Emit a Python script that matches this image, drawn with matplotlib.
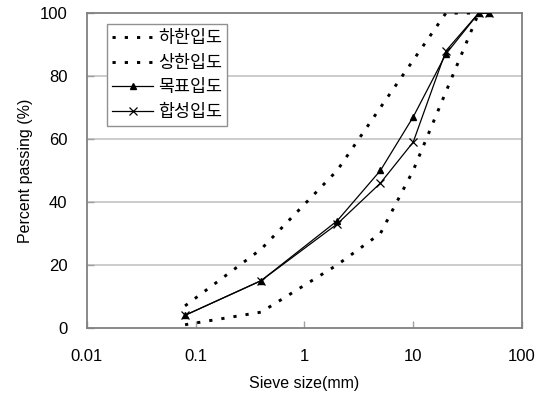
import matplotlib
matplotlib.use("Agg")
import matplotlib.pyplot as plt
from matplotlib.ticker import FixedLocator, FixedFormatter, NullLocator

# Data
lower_x = [0.08, 0.4, 2, 5, 10, 20, 40]
lower_y = [1, 5, 20, 30, 50, 75, 100]
upper_x = [0.08, 0.4, 2, 5, 10, 20, 40]
upper_y = [7, 25, 50, 70, 85, 100, 100]
target_x = [0.08, 0.4, 2, 5, 10, 20, 40, 50]
target_y = [4, 15, 34, 50, 67, 87, 100, 100]
combined_x = [0.08, 0.4, 2, 5, 10, 20, 40, 50]
combined_y = [4, 15, 33, 46, 59, 88, 100, 100]
labels = ["하한입도", "상한입도", "목표입도", "합성입도"]
x_ticks = [0.01, 0.1, 1, 10, 100]
x_ticklabels = ["0.01", "0.1", "1", "10", "100"]
y_ticks = [0, 20, 40, 60, 80, 100]

plt.rcParams['font.family'] = ['Liberation Sans Narrow', 'Liberation Sans', 'DejaVu Sans']

fig = plt.figure(figsize=(5.46, 3.96), dpi=100)
ax = fig.add_axes([0.159, 0.172, 0.797, 0.795])

dot_style = (0, (1.1, 3.1))
ax.plot(lower_x, lower_y, color='black', lw=2.1, linestyle=dot_style,
        dash_capstyle='butt', label=labels[0], zorder=3)
ax.plot(upper_x, upper_y, color='black', lw=2.1, linestyle=dot_style,
        dash_capstyle='butt', label=labels[1], zorder=3)
ax.plot(target_x, target_y, color='black', lw=0.9, marker='^', markersize=5,
        label=labels[2], zorder=4)
ax.plot(combined_x, combined_y, color='black', lw=0.9, marker='x', markersize=6,
        markeredgewidth=0.9, label=labels[3], zorder=4)

ax.set_xscale('log')
ax.set_xlim(0.01, 100)
ax.set_ylim(0, 100)
ax.xaxis.set_major_locator(FixedLocator(x_ticks))
ax.xaxis.set_major_formatter(FixedFormatter(x_ticklabels))
ax.xaxis.set_minor_locator(NullLocator())
ax.set_yticks(y_ticks)

for y in y_ticks[1:-1]:
    ax.axhline(y, color='#c8c8c8', lw=1.3, zorder=1)

for s in ax.spines.values():
    s.set_color('#808080')
    s.set_linewidth(1.3)

ax.tick_params(axis='both', direction='in', color='#a0a0a0', length=5, width=1,
               labelsize=12)
ax.tick_params(axis='x', pad=15)
ax.tick_params(axis='y', pad=14)

ax.set_xlabel("Sieve size(mm)", fontsize=11.5, labelpad=9)
ax.set_ylabel("Percent passing (%)", fontsize=11.5, labelpad=5)

leg = ax.legend(loc='upper left', bbox_to_anchor=(0.046, 0.966), frameon=True,
                fancybox=False, edgecolor='#909090', framealpha=1,
                prop={'family': ['Noto Sans CJK KR'], 'size': 12.5},
                handlelength=2.36, handletextpad=0.3, labelspacing=0.38,
                borderpad=0.3, borderaxespad=0)
leg.get_frame().set_linewidth(1.0)

fig.savefig("out.png", dpi=100)
